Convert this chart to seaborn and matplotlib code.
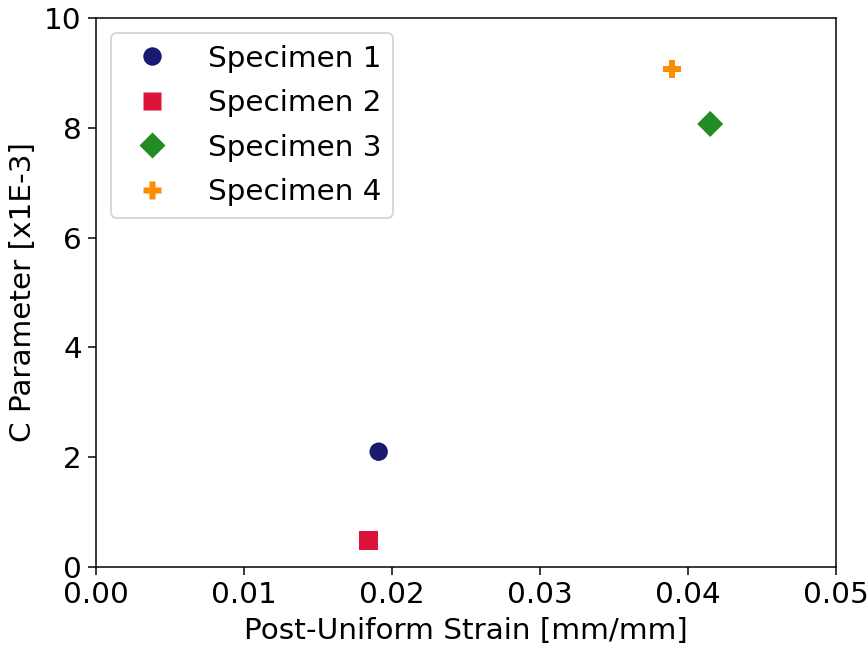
import matplotlib
matplotlib.use("Agg")
import matplotlib.pyplot as plt
import seaborn as sns
import pandas as pd

specimens = ["Specimen 1", "Specimen 2", "Specimen 3", "Specimen 4"]
strain = [0.0191, 0.0184, 0.0415, 0.0389]
c_param = [2.10, 0.48, 8.07, 9.07]
colors = ["#191970", "#DC143C", "#228B22", "#FF8C00"]
markers = ["o", "s", "D", "P"]

df = pd.DataFrame({"Specimen": specimens, "Strain": strain, "C": c_param})

sns.set_style("ticks")
plt.rcParams["font.family"] = ["DejaVu Sans"]
for k in ["text.color", "axes.labelcolor", "xtick.color", "ytick.color", "axes.edgecolor"]:
    plt.rcParams[k] = "black"

dpi = 136
fig = plt.figure(figsize=(868 / dpi, 652 / dpi), dpi=dpi)
ax = fig.add_axes([96 / 868, 1 - 567 / 652, 740 / 868, 549 / 652])

sns.scatterplot(data=df, x="Strain", y="C", hue="Specimen", style="Specimen",
                palette=dict(zip(specimens, colors)),
                markers=dict(zip(specimens, markers)),
                s=95, edgecolor="none", ax=ax)

fs = 15.6
ax.set_xlim(0, 0.05)
ax.set_ylim(0, 10)
ax.set_xticks([0, 0.01, 0.02, 0.03, 0.04, 0.05])
ax.set_xticklabels(["0.00", "0.01", "0.02", "0.03", "0.04", "0.05"])
ax.set_yticks([0, 2, 4, 6, 8, 10])
ax.tick_params(labelsize=fs, colors="black", length=4, width=0.8)
ax.set_xlabel("Post-Uniform Strain [mm/mm]", fontsize=fs, color="black")
ax.set_ylabel("C Parameter [x1E-3]", fontsize=fs, color="black")
for sp in ax.spines.values():
    sp.set_visible(True)
    sp.set_color("black")
    sp.set_linewidth(0.8)

leg = ax.legend(loc="upper left", fontsize=fs, markerscale=1.0, handletextpad=0.9,
                labelspacing=0.56)
leg.set_title(None)
for t in leg.get_texts():
    t.set_color("black")

fig.savefig("out.png", dpi=dpi)
